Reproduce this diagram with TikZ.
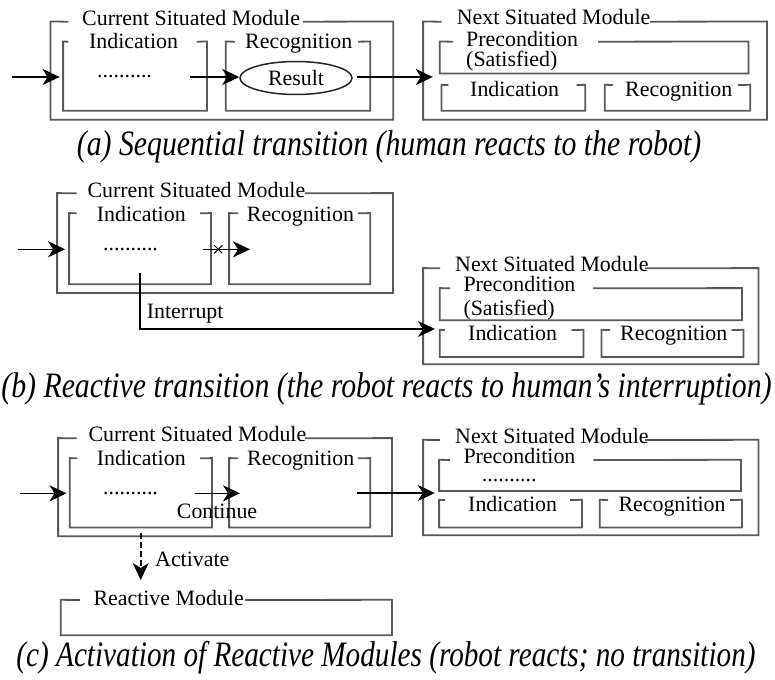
\documentclass[tikz,border=0pt]{standalone}
\usepackage{fontspec}
\setmainfont{Liberation Serif}
\usetikzlibrary{arrows.meta,fit,shapes.geometric,shapes.misc}
\tikzset{
  boxline/.style={draw=black!65, line width=1.8pt},
  lbl/.style={font=\fontsize{21.9}{24}\selectfont, inner sep=0pt, anchor=base west},
  arr/.style={-{Stealth[length=17pt,width=16pt,inset=5pt]}, line width=1.6pt, draw=black},
  capt/.style={font=\fontsize{29.8}{32}\selectfont\itshape, inner sep=0pt, anchor=base},
}
% name, left, top, right, bottom, left tick end, right line start
\newcommand\gbox[7]{%
  \path (#2,#3) coordinate (#1-nw) (#4,#5) coordinate (#1-se);
  \node[fit=(#1-nw)(#1-se), inner sep=0pt] (#1) {};
  \draw[boxline] (#6,#3) -- (#1.north west) -- (#1.south west) -- (#1.south east) -- (#1.north east) -- (#7,#3);
}
\begin{document}
\begin{tikzpicture}[x=1pt,y=-1pt]
\useasboundingbox (0,0) rectangle (775,679);

% ================= (a) =================
\gbox{a-cur}{50.7}{21.7}{393}{119.5}{68.3}{303}
\gbox{a-ind}{63.3}{41.7}{206.7}{110.5}{68.3}{196.7}
\gbox{a-rec}{226}{41.7}{370}{110.5}{235}{358}
\gbox{a-nxt}{423.3}{21.7}{766.7}{119.5}{441.7}{650}
\gbox{a-pre}{440}{41.7}{748.3}{73.3}{453}{598}
\gbox{a-lind}{441.7}{85}{585}{110.5}{448.3}{576.7}
\gbox{a-lrec}{605}{85}{750}{110.5}{613}{738}

\node[lbl] (a-cur-t) at (82,25.5) {Current Situated Module};
\node[lbl] (a-ind-t) at (89,49) {Indication};
\node[lbl] (a-rec-t) at (245,49) {Recognition};
\node[lbl] (a-dots) at (97,77.7) {..........};
\node[ellipse, draw=black!85, line width=1.5pt, minimum width=112pt, minimum height=33pt, inner sep=0pt, font=\fontsize{21.9}{24}\selectfont] (res) at (296,78) {Result};
\node[lbl] (a-nxt-t) at (456.7,25) {Next Situated Module};
\node[lbl] (a-pre-t) at (466,46.7) {Precondition};
\node[lbl] (a-sat) at (466,66.7) {(Satisfied)};
\node[lbl] (a-lind-t) at (470,96.5) {Indication};
\node[lbl] (a-lrec-t) at (625,96.5) {Recognition};

\coordinate (a-in) at (11.7,77);
\draw[arr, shorten >=3.5pt] (a-in) -- (a-in -| a-ind.west);
\coordinate (a-m) at (190,77);
\draw[arr] (a-m) -- (a-m -| res.west);
\coordinate (a-o) at (357,77);
\draw[arr, shorten >=7pt] (a-o) -- (a-o -| a-pre.west);

\node[capt] (cap-a) at (389,155) {\scalebox{1}[1.2]{(a) Sequential transition (human reacts to the robot)}};

% ================= (b) =================
\gbox{b-cur}{57.3}{193.3}{392.7}{292.7}{76.7}{305}
\gbox{b-ind}{69.3}{213.3}{210.7}{284}{76.7}{200}
\gbox{b-rec}{229.3}{213.3}{370}{284}{238}{358}
\gbox{b-nxt}{423.3}{268.3}{758.3}{364}{440}{645}
\gbox{b-pre}{440}{288.3}{741.7}{320}{450}{593}
\gbox{b-lind}{440}{330}{583.3}{356.7}{445}{571.7}
\gbox{b-lrec}{601.7}{330}{743.3}{356.7}{610}{731.7}

\node[lbl] (b-cur-t) at (87.3,197) {Current Situated Module};
\node[lbl] (b-ind-t) at (96.7,221.7) {Indication};
\node[lbl] (b-rec-t) at (246.7,221.7) {Recognition};
\node[lbl] (b-dots) at (103,250) {..........};
\node[lbl] (b-nxt-t) at (455,271.7) {Next Situated Module};
\node[lbl] (b-pre-t) at (463.3,291.7) {Precondition};
\node[lbl] (b-sat) at (463.3,315) {(Satisfied)};
\node[lbl] (b-lind-t) at (468,340) {Indication};
\node[lbl] (b-lrec-t) at (620,340) {Recognition};

\coordinate (b-in) at (18.3,249.3);
\draw[arr, shorten >=4pt] (b-in) -- (b-in -| b-ind.west);
\coordinate (b-m) at (203,249.3);
\coordinate (b-e) at (250,249.3);
\draw[arr] (b-m) -- (b-e);
\node[cross out, draw=black, line width=1pt, minimum size=7pt, inner sep=0pt] (b-x) at (218.3,249.3) {};
\coordinate (b-is) at (140,273.3);
\coordinate (b-it) at (435,329);
\draw[arr] (b-is) |- (b-it);
\node[lbl] (b-int) at (146.7,318.3) {Interrupt};

\node[capt] (cap-b) at (386.5,397) {\scalebox{1}[1.2]{(b) Reactive transition (the robot reacts to human’s interruption)}};

% ================= (c) =================
\gbox{c-cur}{58.3}{438.3}{391.7}{536}{76.7}{305}
\gbox{c-ind}{70}{458.3}{211.7}{527.3}{77.3}{200}
\gbox{c-rec}{229.3}{458.3}{370}{527.3}{238}{358}
\gbox{c-nxt}{423.3}{440}{758.3}{535}{440}{645}
\gbox{c-pre}{439.3}{460}{740.7}{490.7}{450}{593.3}
\gbox{c-lind}{439.3}{500}{581.7}{527.3}{445}{570}
\gbox{c-lrec}{600}{500}{741.7}{527.3}{608}{730}
\gbox{c-rea}{61}{600}{391.7}{635}{80}{245}

\node[lbl] (c-cur-t) at (88.3,441.7) {Current Situated Module};
\node[lbl] (c-ind-t) at (96.7,465) {Indication};
\node[lbl] (c-rec-t) at (247,465) {Recognition};
\node[lbl] (c-dots) at (103,494.3) {..........};
\node[lbl] (c-nxt-t) at (455,443.3) {Next Situated Module};
\node[lbl] (c-pre-t) at (463.3,463.3) {Precondition};
\node[lbl] (c-pdots) at (481.7,481.7) {..........};
\node[lbl] (c-lind-t) at (468,511.7) {Indication};
\node[lbl] (c-lrec-t) at (618.3,511.7) {Recognition};
\node[lbl] (c-rea-t) at (93.3,605) {Reactive Module};

\coordinate (c-in) at (20,493.3);
\draw[arr, shorten >=3.3pt] (c-in) -- (c-in -| c-ind.west);
\coordinate (c-m) at (195,493.3);
\coordinate (c-e) at (240,493.3);
\draw[arr] (c-m) -- (c-e);
\node[lbl] (c-cont) at (176.7,518.3) {Continue};
\coordinate (c-o) at (356.7,493);
\draw[arr, shorten >=4.3pt] (c-o) -- (c-o -| c-pre.west);
\coordinate (c-as) at (140.7,533);
\coordinate (c-at) at (140.7,580);
\draw[arr, dash pattern=on 6pt off 3pt] (c-as) -- (c-at);
\node[lbl] (c-act) at (155,566.7) {Activate};

\node[capt] (cap-c) at (386,666) {\scalebox{0.98}[1.2]{(c) Activation of Reactive Modules (robot reacts; no transition)}};
\end{tikzpicture}
\end{document}
